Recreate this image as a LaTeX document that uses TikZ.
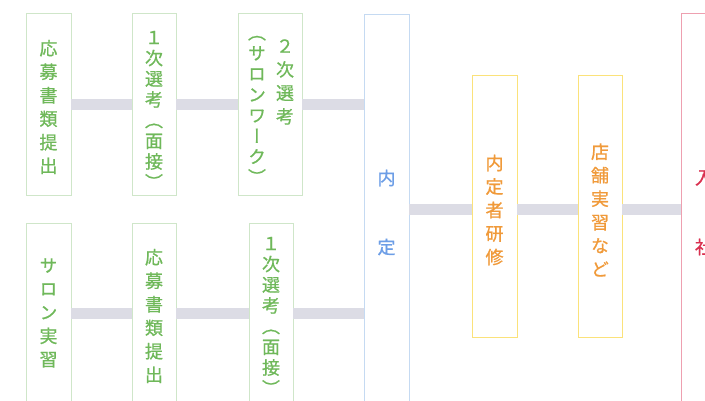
\documentclass[tikz,border=0pt]{standalone}
\usepackage{fontspec}
\newfontfamily\vjp[RawFeature=+vert, FakeBold=0.8]{Noto Sans CJK JP}
\definecolor{gtext}{HTML}{6FB85A}
\definecolor{gline}{HTML}{CFE6C9}
\definecolor{btext}{HTML}{6D9EE6}
\definecolor{bline}{HTML}{C5DAF2}
\definecolor{otext}{HTML}{F09A3A}
\definecolor{oline}{HTML}{FBE27A}
\definecolor{rtext}{HTML}{D9304F}
\definecolor{rline}{HTML}{EEA0B0}
\definecolor{connc}{HTML}{DCDCE5}
\tikzset{
  box/.style={draw, line width=0.8pt, inner sep=0pt, minimum width=#1},
  vt/.style={inner sep=0pt, align=center, font=\vjp\fontsize{18}{23.5}\selectfont},
  vtp/.style={inner sep=0pt, align=center, font=\vjp\fontsize{18}{20.7}\selectfont},
  conn/.style={draw=connc, line width=11pt},
}
\begin{document}
\begin{tikzpicture}[x=1pt,y=-1pt]
\useasboundingbox (0,0) rectangle (705,400);
% boxes
\node[box=45pt, draw=gline, minimum height=182pt] (A) at (48.5,104) {};
\node[box=44pt, draw=gline, minimum height=182pt] (B) at (154,104) {};
\node[box=64pt, draw=gline, minimum height=182pt] (C) at (270,104) {};
\node[box=45pt, draw=gline, minimum height=180pt] (D) at (48.5,313) {};
\node[box=44pt, draw=gline, minimum height=180pt] (E) at (154,313) {};
\node[box=44pt, draw=gline, minimum height=180pt] (F) at (271,313) {};
\node[box=45pt, draw=bline, minimum height=389pt] (N) at (386.5,208.5) {};
\node[box=45pt, draw=oline, minimum height=262pt] (O1) at (494.5,206) {};
\node[box=44pt, draw=oline, minimum height=262pt] (O2) at (600,206) {};
\node[box=48pt, draw=rline, minimum height=390pt] (R) at (705,208) {};
% connectors
\draw[conn] (A.east) -- (B.west);
\draw[conn] (B.east) -- (C.west);
\draw[conn] (C.east) -- (C.east -| N.west);
\draw[conn] (D.east) -- (E.west);
\draw[conn] (E.east) -- (F.west);
\draw[conn] (F.east) -- (F.east -| N.west);
\draw[conn] ([yshift=-3.5pt]O1.west -| N.east) -- ([yshift=-3.5pt]O1.west);
\draw[conn] ([yshift=-3.5pt]O1.east) -- ([yshift=-3.5pt]O2.west);
\draw[conn] ([yshift=-3.5pt]O2.east) -- ([yshift=-3.5pt]O2.east -| R.west);
% texts
\node[vt, text=gtext] (tA) at (48.5,107) {応\\募\\書\\類\\提\\出};
\node[vtp, text=gtext] (tB) at (154,110) {１\\次\\選\\考\\（\\面\\接\\）};
\node[vt, text=gtext] (tC1) at (285,82) {２\\次\\選\\考};
\node[vtp, text=gtext] (tC2) at (257,110) {（\\サ\\ロ\\ン\\ワ\\ー\\ク\\）};
\node[vt, text=gtext] (tD) at (48.5,313) {サ\\ロ\\ン\\実\\習};
\node[vt, text=gtext] (tE) at (154,316) {応\\募\\書\\類\\提\\出};
\node[vtp, text=gtext] (tF) at (271,316) {１\\次\\選\\考\\（\\面\\接\\）};
\node[vt, text=btext] (tN1) at (386.5,178) {内};
\node[vt, text=btext] (tN2) at (386.5,247) {定};
\node[vt, text=otext] (tO1) at (494.5,210) {内\\定\\者\\研\\修};
\node[vt, text=otext] (tO2) at (600,210) {店\\舗\\実\\習\\な\\ど};
\node[vt, text=rtext] (tR1) at (704,178) {入};
\node[vt, text=rtext] (tR2) at (704,247) {社};
\end{tikzpicture}
\end{document}
